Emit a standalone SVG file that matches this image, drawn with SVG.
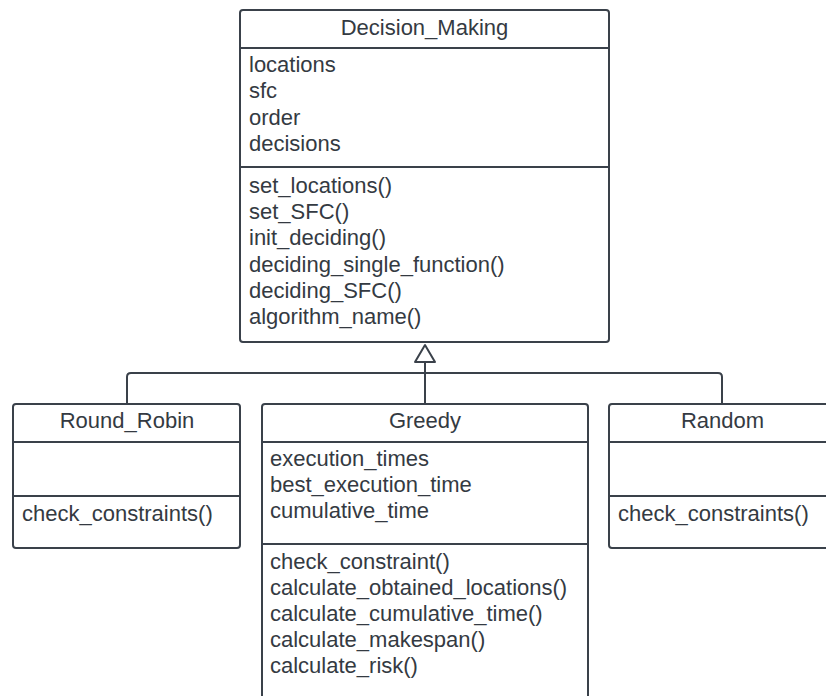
<svg xmlns="http://www.w3.org/2000/svg" width="826" height="696" viewBox="0 0 826 696">
  <style>
    .box { fill: #ffffff; stroke: #3a414a; stroke-width: 2; }
    .div { stroke: #3a414a; stroke-width: 2; }
    .edge { fill: none; stroke: #3a414a; stroke-width: 2; stroke-linejoin: round; }
    text { font-family: "Liberation Sans", Arial, sans-serif; font-size: 22px; fill: #343a42; }
    .title { text-anchor: middle; }
  </style>
  <rect width="826" height="696" fill="#ffffff"/>

  <!-- generalization connectors -->
  <g id="connectors">
    <path class="edge" d="M127,404 V377 Q127,373 131,373 H718 Q722,373 722,377 V404"/>
    <path class="edge" d="M425,362 V404"/>
    <polygon class="edge" points="425,345 415,362 435,362" fill="#ffffff"/>
  </g>

  <g id="Decision_Making">
    <rect class="box" x="240" y="10" width="369" height="332" rx="3"/>
    <line class="div" x1="240" y1="48" x2="609" y2="48"/>
    <line class="div" x1="240" y1="167" x2="609" y2="167"/>
    <text class="title" x="424.5" y="35">Decision_Making</text>
    <text x="249" y="72">locations</text>
    <text x="249" y="98">sfc</text>
    <text x="249" y="124.5">order</text>
    <text x="249" y="151">decisions</text>
    <text x="249" y="193">set_locations()</text>
    <text x="249" y="219">set_SFC()</text>
    <text x="249" y="245">init_deciding()</text>
    <text x="249" y="271.5">deciding_single_function()</text>
    <text x="249" y="298">deciding_SFC()</text>
    <text x="249" y="324">algorithm_name()</text>
  </g>

  <g id="Round_Robin">
    <rect class="box" x="13" y="404" width="227" height="144" rx="3"/>
    <line class="div" x1="13" y1="442" x2="240" y2="442"/>
    <line class="div" x1="13" y1="496" x2="240" y2="496"/>
    <text class="title" x="127" y="428">Round_Robin</text>
    <text x="22" y="521">check_constraints()</text>
  </g>

  <g id="Greedy">
    <rect class="box" x="262" y="404" width="326" height="310" rx="3"/>
    <line class="div" x1="262" y1="442" x2="588" y2="442"/>
    <line class="div" x1="262" y1="544" x2="588" y2="544"/>
    <text class="title" x="425" y="428">Greedy</text>
    <text x="270" y="466">execution_times</text>
    <text x="270" y="492">best_execution_time</text>
    <text x="270" y="518">cumulative_time</text>
    <text x="270" y="569">check_constraint()</text>
    <text x="270" y="595">calculate_obtained_locations()</text>
    <text x="270" y="621">calculate_cumulative_time()</text>
    <text x="270" y="647">calculate_makespan()</text>
    <text x="270" y="673">calculate_risk()</text>
  </g>

  <g id="Random">
    <rect class="box" x="609" y="404" width="227" height="144" rx="3"/>
    <line class="div" x1="609" y1="442" x2="836" y2="442"/>
    <line class="div" x1="609" y1="496" x2="836" y2="496"/>
    <text class="title" x="722.5" y="428">Random</text>
    <text x="618" y="521">check_constraints()</text>
  </g>
</svg>
